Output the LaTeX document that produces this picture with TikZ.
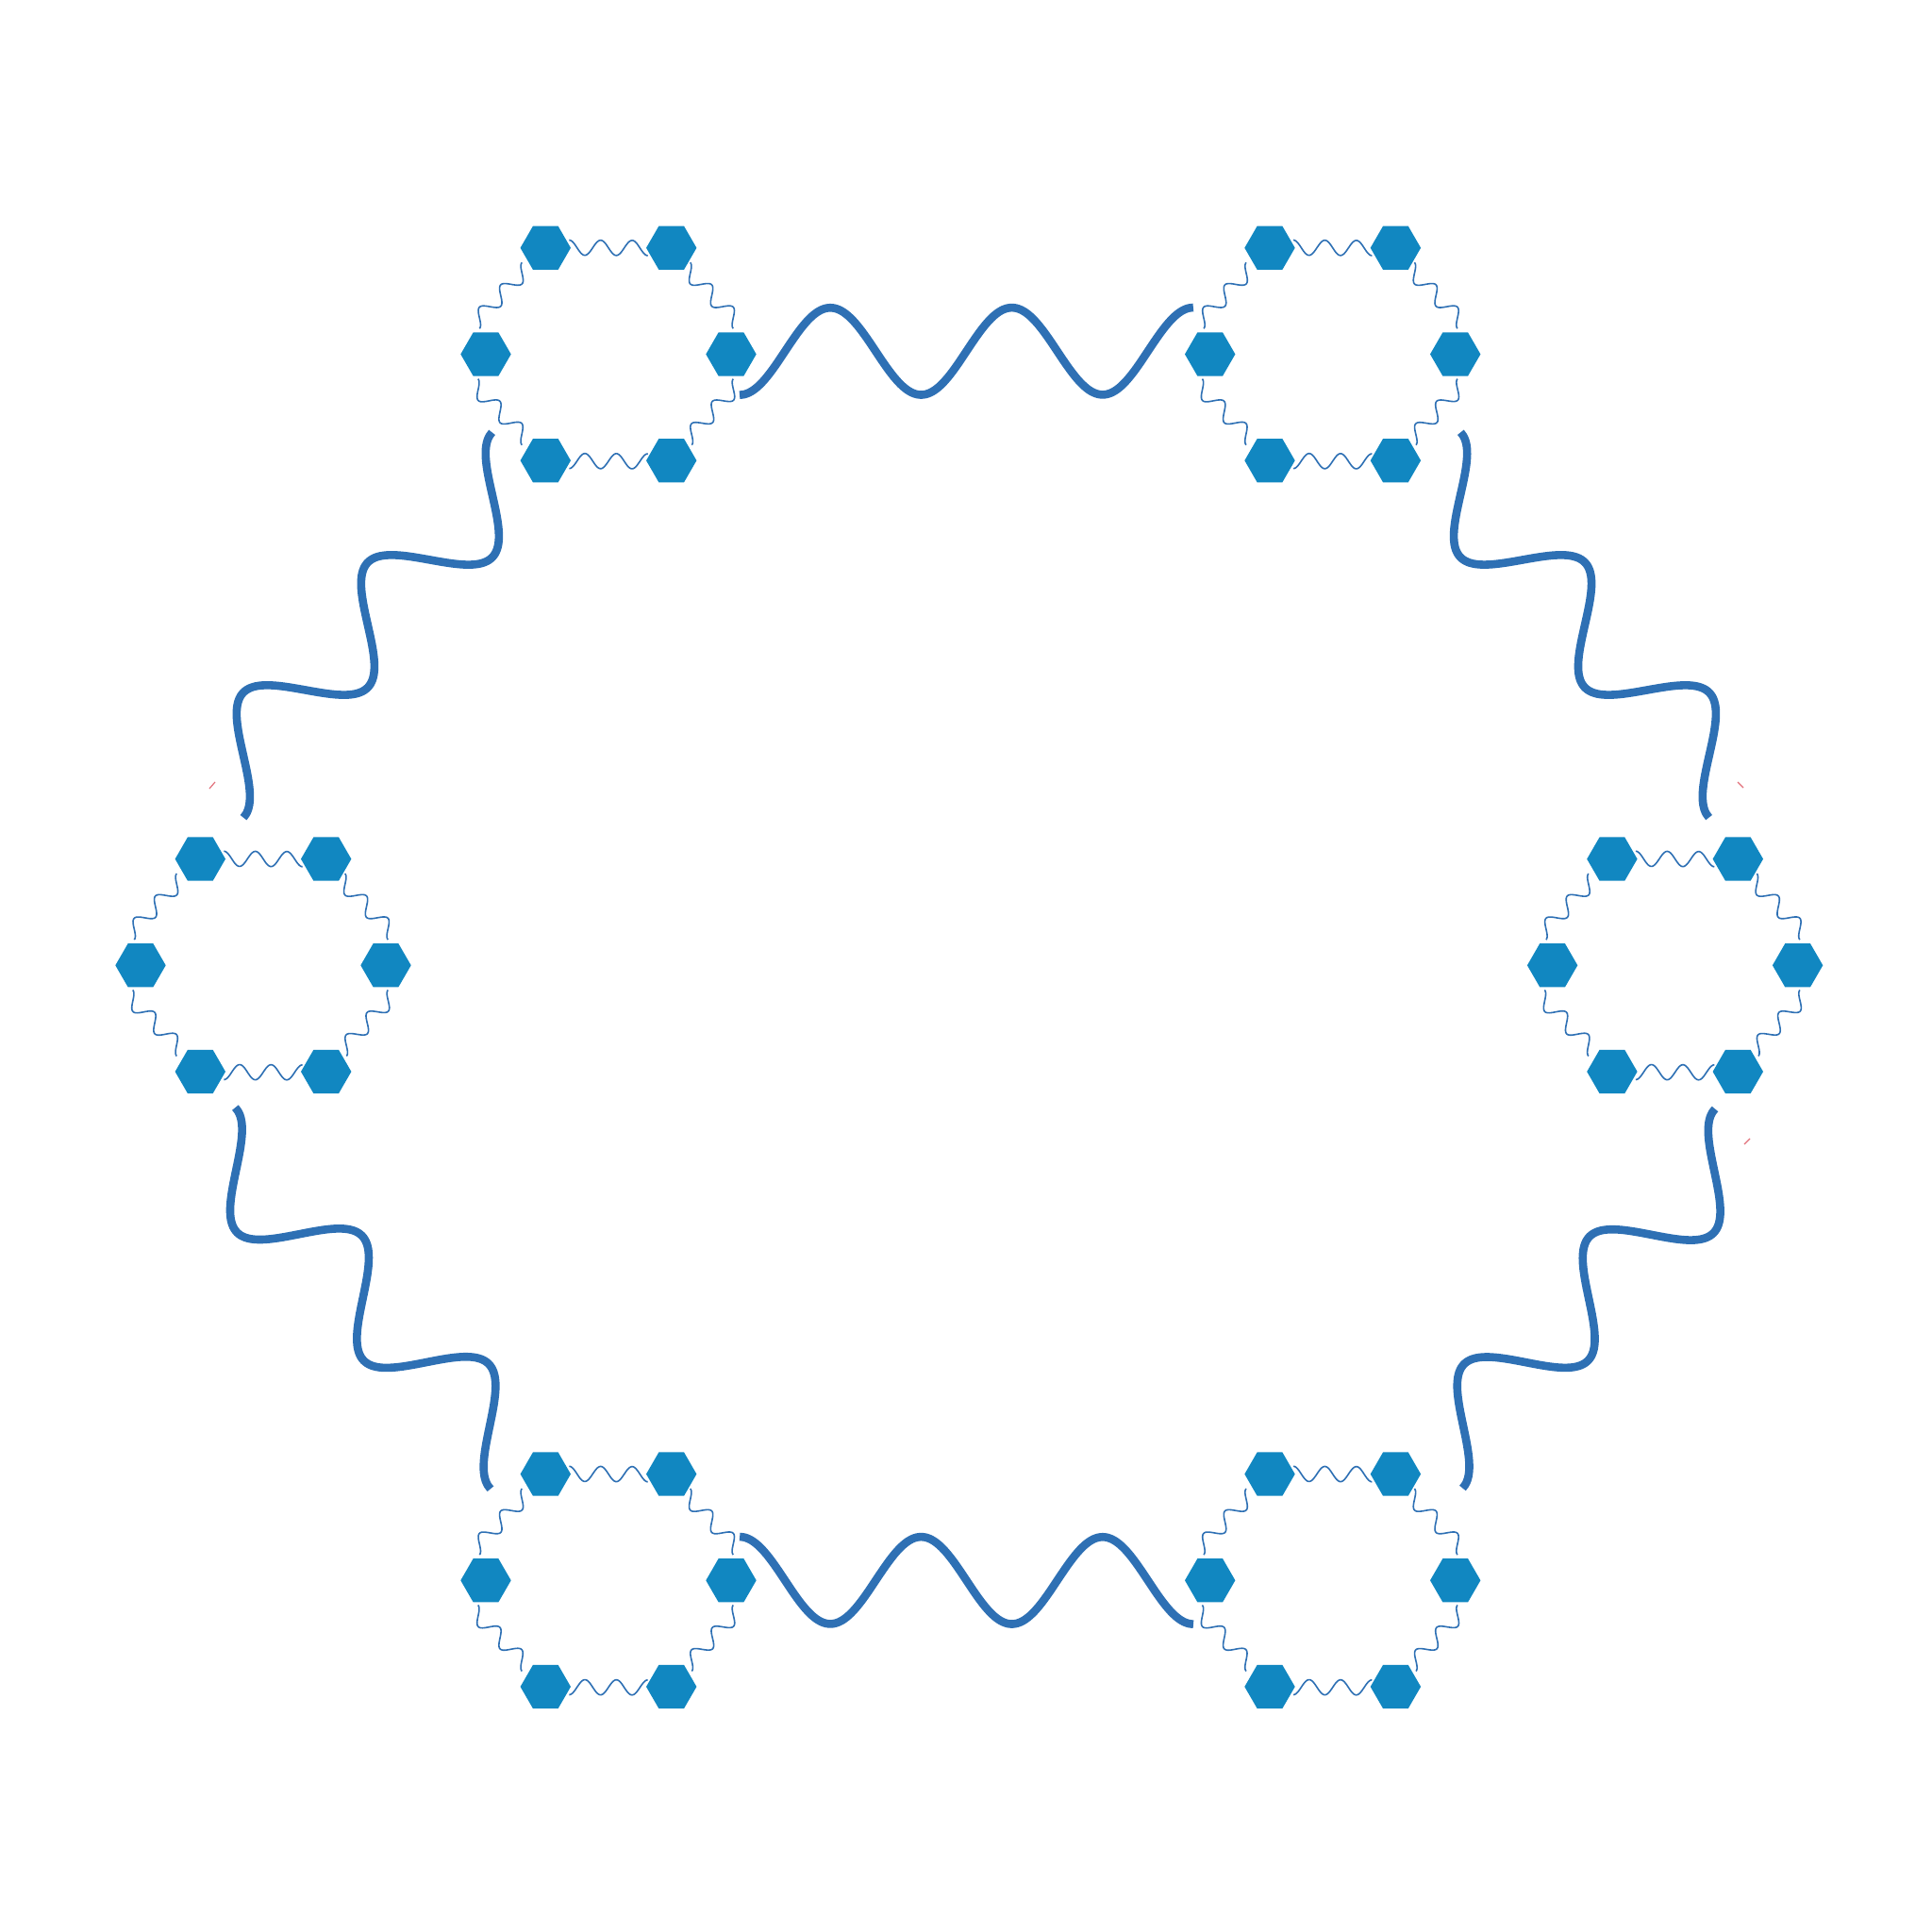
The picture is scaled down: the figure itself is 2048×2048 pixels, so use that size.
\documentclass[tikz,border=0pt]{standalone}
\usepackage{tikz}
\usetikzlibrary{calc,shapes.geometric}
\definecolor{hexblue}{RGB}{17,135,193}
\definecolor{waveblue}{RGB}{46,112,180}
\definecolor{markred}{RGB}{226,112,122}
\tikzset{
  hexnode/.style={regular polygon, regular polygon sides=6, fill=hexblue, draw=none,
                  minimum size=53.4pt, inner sep=0pt, outer sep=0pt},
  thinwave/.style ={line width=1.6pt, waveblue},
  thickwave/.style={line width=8.6pt, waveblue},
  redmark/.style  ={line width=1.2pt, markred},
}
% sine link of 2.5 periods between two named points, #3 = 1 or -1 (phase)
\newcommand{\wavelink}[4]{%
  \path (#1); \pgfgetlastxy{\wvax}{\wvay}%
  \path (#2); \pgfgetlastxy{\wvbx}{\wvby}%
  \pgfmathsetmacro{\wvang}{atan2(\wvby-\wvay,\wvbx-\wvax)-(#3)*10.87}%
  \pgfmathsetmacro{\wvlen}{veclen(\wvbx-\wvax,\wvby-\wvay)/2.5457}%
  \begin{scope}[shift={($(#1)!0.5!(#2)$)}, rotate=\wvang, yscale=#3, x=\wvlen pt, y=\wvlen pt]
    \draw[#4] plot[domain=-1.25:1.25, samples=101, smooth] (\x,{0.24*sin(360*\x)});
  \end{scope}}
% ring of six hexagons with their links
\newcommand{\hexcluster}[2]{%
  \coordinate (#1) at #2;
  \node[hexnode] (#1-1) at ($(#1)+(-66.7,112.7)$) {};
  \node[hexnode] (#1-2) at ($(#1)+(66.7,112.7)$)  {};
  \node[hexnode] (#1-3) at ($(#1)+(130,0)$)       {};
  \node[hexnode] (#1-4) at ($(#1)+(66.7,-112.7)$) {};
  \node[hexnode] (#1-5) at ($(#1)+(-66.7,-112.7)$){};
  \node[hexnode] (#1-6) at ($(#1)+(-130,0)$)      {};
  \coordinate (#1-12a) at ($(#1)+(-41.7,121)$);
  \coordinate (#1-12b) at ($(#1)+(41.7,104.5)$);
  \coordinate (#1-23a) at ($(#1)+(86.7,97.2)$);
  \coordinate (#1-23b) at ($(#1)+(132.3,27.2)$);
  \coordinate (#1-34a) at ($(#1)+(132.3,-26.2)$);
  \coordinate (#1-34b) at ($(#1)+(88.3,-96.2)$);
  \coordinate (#1-45a) at ($(#1)+(41.7,-105.5)$);
  \coordinate (#1-45b) at ($(#1)+(-41.7,-121.2)$);
  \coordinate (#1-56a) at ($(#1)+(-91.7,-96.2)$);
  \coordinate (#1-56b) at ($(#1)+(-138.3,-26.2)$);
  \coordinate (#1-61a) at ($(#1)+(-136.7,27.2)$);
  \coordinate (#1-61b) at ($(#1)+(-91.7,97.2)$);
  \wavelink{#1-12a}{#1-12b}{-1}{thinwave}
  \wavelink{#1-23a}{#1-23b}{-1}{thinwave}
  \wavelink{#1-34a}{#1-34b}{1}{thinwave}
  \wavelink{#1-45a}{#1-45b}{1}{thinwave}
  \wavelink{#1-56a}{#1-56b}{-1}{thinwave}
  \wavelink{#1-61a}{#1-61b}{1}{thinwave}}

\begin{document}
\begin{tikzpicture}[x=1pt, y=1pt]
  \useasboundingbox[fill=white] (0,0) rectangle (2048,2048);

  \hexcluster{TL}{(645,1672.5)}
  \hexcluster{TR}{(1412.7,1672.5)}
  \hexcluster{L}{(279,1024.7)}
  \hexcluster{R}{(1775.6,1024.7)}
  \hexcluster{BL}{(645,372.7)}
  \hexcluster{BR}{(1412.7,372.7)}

  % links between the rings
  \coordinate (TL-TR-a) at (784,1629.3);
  \coordinate (TL-TR-b) at (1265,1722);
  \coordinate (TR-R-a)  at (1548.3,1589.7);
  \coordinate (TR-R-b)  at (1811.7,1181.3);
  \coordinate (R-BR-a)  at (1818,872.5);
  \coordinate (R-BR-b)  at (1550.3,470.4);
  \coordinate (BR-BL-a) at (1265,326.3);
  \coordinate (BR-BL-b) at (784,419);
  \coordinate (BL-L-a)  at (520,469.7);
  \coordinate (BL-L-b)  at (249.3,874);
  \coordinate (L-TL-a)  at (258,1181.3);
  \coordinate (L-TL-b)  at (521.7,1589.7);
  \wavelink{TL-TR-a}{TL-TR-b}{1}{thickwave}
  \wavelink{TR-R-a}{TR-R-b}{-1}{thickwave}
  \wavelink{R-BR-a}{R-BR-b}{1}{thickwave}
  \wavelink{BR-BL-a}{BR-BL-b}{-1}{thickwave}
  \wavelink{BL-L-a}{BL-L-b}{-1}{thickwave}
  \wavelink{L-TL-a}{L-TL-b}{1}{thickwave}

  % small red strokes
  \coordinate (m1a) at (222,1212); \coordinate (m1b) at (228,1219);
  \coordinate (m2a) at (1842,1219); \coordinate (m2b) at (1848,1213);
  \coordinate (m3a) at (1849,835); \coordinate (m3b) at (1855,841);
  \draw[redmark] (m1a) -- (m1b);
  \draw[redmark] (m2a) -- (m2b);
  \draw[redmark] (m3a) -- (m3b);
\end{tikzpicture}
\end{document}
